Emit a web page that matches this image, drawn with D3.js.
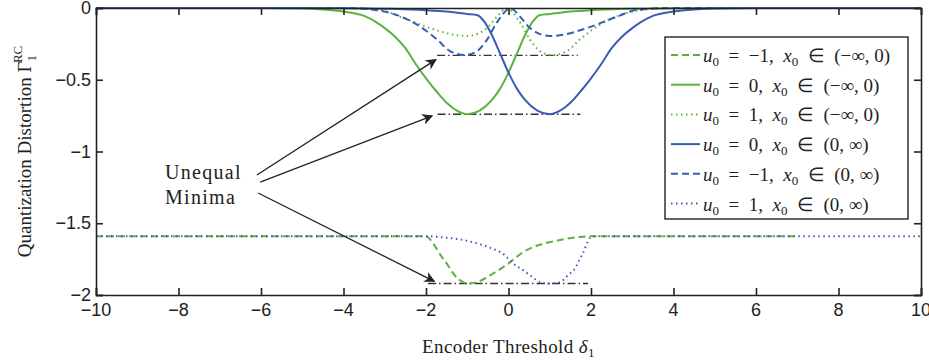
<!DOCTYPE html>
<html>
<head>
<meta charset="utf-8">
<script src="https://cdn.jsdelivr.net/npm/d3@7"></script>
<style>
  body { margin: 0; background: #fff; }
  svg text { fill: #222; }
</style>
</head>
<body>
<div id="chart"></div>
<script>
// series: [threshold, distortion]
var greenDashed = [[-10,-1.59],[-4,-1.59],[-2,-1.59],[-1.83,-1.64],[-1.65,-1.72],[-1.5,-1.78],[-1.25,-1.88],[-1.1,-1.91],[-1,-1.92],
  [-0.76,-1.91],[-0.37,-1.85],[0,-1.78],[0.36,-1.7],[0.76,-1.65],[1.25,-1.617],[1.73,-1.595],[2,-1.59],[4,-1.59],[7,-1.59]]
var greenSolid = [[-10,0],[-6,0],[-5,-0.003],[-4.5,-0.01],[-4,-0.025],[-3.5,-0.055],[-3.2,-0.1],[-3,-0.14],[-2.75,-0.2],
  [-2.5,-0.28],[-2.25,-0.39],[-2,-0.49],[-1.75,-0.58],[-1.5,-0.66],[-1.25,-0.715],[-1,-0.74],[-0.7,-0.715],[-0.4,-0.64],
  [-0.2,-0.56],[0,-0.45],[0.2,-0.32],[0.4,-0.19],[0.6,-0.09],[0.75,-0.05],[1,-0.042],[1.5,-0.025],[2,-0.015],[3,-0.005],
  [4,-0.001],[5,0],[10,0]]
var greenDotted = [[-10,0],[-4,0],[-3.1,-0.014],[-2.63,-0.06],[-1.9,-0.14],[-1.25,-0.19],[-1,-0.195],[-0.52,-0.14],[-0.28,-0.06],
  [-0.05,-0.003],[0.28,-0.1],[0.52,-0.22],[0.76,-0.3],[1.05,-0.328],[1.42,-0.3],[1.73,-0.22],[2.14,-0.13],[2.7,-0.05],[3.2,-0.015],
  [4,0],[10,0]]
var blueSolid = [[-10,0],[-5,0],[-4,-0.001],[-3,-0.005],[-2,-0.015],[-1.5,-0.025],[-1,-0.042],[-0.75,-0.05],[-0.6,-0.09],[-0.4,-0.19],
  [-0.2,-0.32],[0,-0.45],[0.2,-0.56],[0.4,-0.64],[0.7,-0.715],[1,-0.74],[1.25,-0.715],[1.5,-0.66],[1.75,-0.58],[2,-0.49],
  [2.25,-0.39],[2.5,-0.28],[2.75,-0.2],[3,-0.14],[3.2,-0.1],[3.5,-0.055],[4,-0.025],[4.5,-0.01],[5,-0.003],[6,0],[10,0]]
var blueDashed = [[-10,0],[-4,0],[-3.2,-0.015],[-2.7,-0.05],[-2.14,-0.13],[-1.73,-0.22],[-1.42,-0.3],[-1.05,-0.328],[-0.76,-0.3],
  [-0.52,-0.22],[-0.28,-0.1],[0.05,-0.003],[0.28,-0.06],[0.52,-0.14],[1,-0.195],[1.25,-0.19],[1.9,-0.14],[2.63,-0.06],[3.1,-0.014],
  [4,0],[10,0]]
var blueDotted = [[-10,-1.59],[-4,-1.59],[-2,-1.59],[-1.73,-1.595],[-1.1,-1.617],[-0.76,-1.64],[-0.45,-1.67],[-0.1,-1.72],[0.11,-1.78],
  [0.37,-1.83],[0.6,-1.88],[0.76,-1.91],[1,-1.92],[1.25,-1.91],[1.45,-1.86],[1.57,-1.83],[1.8,-1.71],[1.98,-1.6],[2.05,-1.59],[10,-1.59]]

var minLines = [[-1.73,1.68,-0.33],[-1.72,1.74,-0.74],[-1.95,1.93,-1.92]]

var xTicks = [-10,-8,-6,-4,-2,0,2,4,6,8,10]
var yTicks = [0,-0.5,-1,-1.5,-2]

var legendLabels = [['−1','(−∞, 0)'],['0','(−∞, 0)'],['1','(−∞, 0)'],['0','(0, ∞)'],['−1','(0, ∞)'],['1','(0, ∞)']]

// arrows: [fromX, fromY, toX, toY] in data units
var arrows = [[-6.1,-1.164,-1.76,-0.36],[-6.02,-1.213,-1.85,-0.752],[-6.07,-1.289,-1.8,-1.905]]

var green = '#5cb23e'
var blue = '#3a5db4'

var series = [
  {data: greenDashed, color: green, dash: '7,4'},
  {data: greenSolid, color: green, dash: null},
  {data: greenDotted, color: green, dash: '1.5,3.5'},
  {data: blueSolid, color: blue, dash: null},
  {data: blueDashed, color: blue, dash: '7,4'},
  {data: blueDotted, color: blue, dash: '1.5,3.5'}
]

var width = 929
var height = 362
var margin = {left: 96, right: 8, top: 8, bottom: 67}

var svg = d3.select('#chart')
  .append('svg')
  .attr('width', width)
  .attr('height', height)

var x = d3.scaleLinear().domain([-10, 10]).range([margin.left, width - margin.right])
var y = d3.scaleLinear().domain([-2, 0]).range([height - margin.bottom, margin.top])

var line = d3.line()
  .x(d => x(d[0]))
  .y(d => y(d[1]))
  .curve(d3.curveMonotoneX)

// dash-dot min markers
svg.append('g')
  .selectAll('line')
  .data(minLines)
  .enter()
  .append('line')
  .attr('x1', d => x(d[0]))
  .attr('x2', d => x(d[1]))
  .attr('y1', d => y(d[2]))
  .attr('y2', d => y(d[2]))
  .style('stroke', '#333')
  .style('stroke-width', 1.4)
  .style('stroke-dasharray', '8,3,1.5,3')

svg.append('g')
  .selectAll('path')
  .data(series)
  .enter()
  .append('path')
  .attr('d', d => line(d.data))
  .style('fill', 'none')
  .style('stroke', d => d.color)
  .style('stroke-width', 2)
  .style('stroke-dasharray', d => d.dash)

// axes box with inward ticks on all sides
var tickLen = 7
var axisColor = '#222'
svg.append('g')
  .attr('transform', `translate(0,${y(-2)})`)
  .call(d3.axisBottom(x).tickValues(xTicks).tickSize(-tickLen).tickFormat(''))
svg.append('g')
  .attr('transform', `translate(0,${y(0)})`)
  .call(d3.axisTop(x).tickValues(xTicks).tickSize(-tickLen).tickFormat(''))
svg.append('g')
  .attr('transform', `translate(${x(-10)},0)`)
  .call(d3.axisLeft(y).tickValues(yTicks).tickSize(-tickLen).tickFormat(''))
svg.append('g')
  .attr('transform', `translate(${x(10)},0)`)
  .call(d3.axisRight(y).tickValues(yTicks).tickSize(-tickLen).tickFormat(''))
svg.selectAll('.domain, .tick line')
  .style('stroke', axisColor)
  .style('stroke-width', 1.6)

svg.append('g')
  .selectAll('text')
  .data(xTicks)
  .enter()
  .append('text')
  .attr('x', d => x(d))
  .attr('y', y(-2) + 21)
  .attr('text-anchor', 'middle')
  .style('font-family', 'Liberation Sans')
  .style('font-size', '18px')
  .text(d => d < 0 ? '−' + Math.abs(d) : d)

svg.append('g')
  .selectAll('text')
  .data(yTicks)
  .enter()
  .append('text')
  .attr('x', x(-10) - 5)
  .attr('y', d => y(d) + 6)
  .attr('text-anchor', 'end')
  .style('font-family', 'Liberation Sans')
  .style('font-size', '18px')
  .text(d => d < 0 ? '−' + Math.abs(d) : d)

// axis titles
var xTitle = svg.append('text')
  .attr('x', x(0))
  .attr('y', 353)
  .attr('text-anchor', 'middle')
  .style('font-family', 'Liberation Serif')
  .style('font-size', '19px')
  .style('letter-spacing', '0.4px')
xTitle.append('tspan').text('Encoder Threshold ')
xTitle.append('tspan').style('font-style', 'italic').text('δ')
xTitle.append('tspan').attr('dy', 4).style('font-size', '13px').text('1')

var yTitle = svg.append('text')
  .attr('transform', `translate(31,${y(-1)}) rotate(-90)`)
  .attr('text-anchor', 'middle')
  .style('font-family', 'Liberation Serif')
  .style('font-size', '19px')
yTitle.append('tspan').text('Quantization Distortion Γ')
yTitle.append('tspan').attr('dy', 5).style('font-size', '13px').text('1')
yTitle.append('tspan').attr('dx', -8).attr('dy', -14).style('font-size', '13px').text('RC')

// annotation
svg.append('defs').append('marker')
  .attr('id', 'head')
  .attr('viewBox', '0 0 10 10')
  .attr('refX', 9)
  .attr('refY', 5)
  .attr('markerWidth', 11)
  .attr('markerHeight', 11)
  .attr('markerUnits', 'userSpaceOnUse')
  .attr('orient', 'auto')
  .append('path')
  .attr('d', 'M0,0 L10,5 L0,10 L3,5 Z')
  .style('fill', '#222')

svg.append('g')
  .selectAll('line')
  .data(arrows)
  .enter()
  .append('line')
  .attr('x1', d => x(d[0]))
  .attr('y1', d => y(d[1]))
  .attr('x2', d => x(d[2]))
  .attr('y2', d => y(d[3]))
  .style('stroke', '#222')
  .style('stroke-width', 1.3)
  .attr('marker-end', 'url(#head)')

svg.append('text')
  .attr('x', 165)
  .attr('y', 179)
  .style('font-family', 'Liberation Serif')
  .style('font-size', '20px')
  .style('letter-spacing', '1.3px')
  .text('Unequal')
svg.append('text')
  .attr('x', 165)
  .attr('y', 204)
  .style('font-family', 'Liberation Serif')
  .style('font-size', '20px')
  .style('letter-spacing', '1.3px')
  .text('Minima')

// legend
var legend = svg.append('g').attr('transform', 'translate(665,37)')
legend.append('rect')
  .attr('width', 243)
  .attr('height', 182)
  .style('fill', '#fff')
  .style('stroke', '#222')
  .style('stroke-width', 1.4)

var rows = legend.selectAll('g.row')
  .data(series)
  .enter()
  .append('g')
  .attr('class', 'row')
  .attr('transform', (d, i) => `translate(0,${18 + i * 29.7})`)

rows.append('line')
  .attr('x1', 6)
  .attr('x2', 35)
  .style('stroke', d => d.color)
  .style('stroke-width', 2)
  .style('stroke-dasharray', d => d.dash)

rows.each(function(d, i) {
  var t = d3.select(this).append('text')
    .attr('x', 38)
    .attr('y', 7)
    .style('font-family', 'Liberation Serif')
    .style('font-size', '19px')
  t.append('tspan').style('font-style', 'italic').text('u')
  t.append('tspan').attr('dy', 4).style('font-size', '13px').text('0')
  t.append('tspan').attr('dy', -4).text('\u2002=\u2002' + legendLabels[i][0] + ',\u2002')
  t.append('tspan').style('font-style', 'italic').text('x')
  t.append('tspan').attr('dy', 4).style('font-size', '13px').text('0')
  t.append('tspan').attr('dy', -4).text('\u2002∈\u2002' + legendLabels[i][1])
})
</script>
</body>
</html>
